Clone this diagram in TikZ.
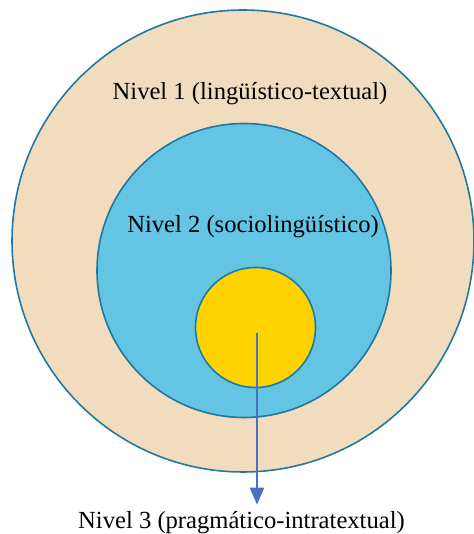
\documentclass[tikz,border=0pt]{standalone}
\usepackage{fontspec}
\setmainfont{Liberation Serif}
\usetikzlibrary{arrows.meta}

\definecolor{beige}{RGB}{242,220,190}
\definecolor{skyblue}{RGB}{100,196,228}
\definecolor{sunyellow}{RGB}{255,211,0}
\definecolor{rimblue}{RGB}{30,120,160}
\definecolor{arrowblue}{RGB}{70,114,196}

\begin{document}
\begin{tikzpicture}[font=\fontsize{14}{16}\selectfont,
  level/.style={circle,draw=rimblue,line width=0.9pt,inner sep=0pt}]
\useasboundingbox (0,0) rectangle (9.48,10.68);

\node[level,fill=beige,minimum size=9.24cm] (outer) at (4.86,5.86) {};
\node[level,fill=skyblue,minimum size=5.88cm] (middle) at (4.88,5.27) {};
\node[level,fill=sunyellow,minimum size=2.40cm] (inner) at (5.11,4.13) {};

\node[anchor=base] (lvl1) at (5.00,8.68) {Nivel 1 (lingüístico-textual)};
\node[anchor=base] (lvl2) at (5.06,6.02) {Nivel 2 (sociolingüístico)};
\node[anchor=base] (lvl3) at (4.83,0.12) {Nivel 3 (pragmático-intratextual)};

\coordinate (start) at (5.14,4.02);
\draw[arrowblue,line width=1.2pt,-{Triangle[width=0.28cm,length=0.34cm]}]
  (start) -- (start |- lvl3.north);

\end{tikzpicture}
\end{document}
